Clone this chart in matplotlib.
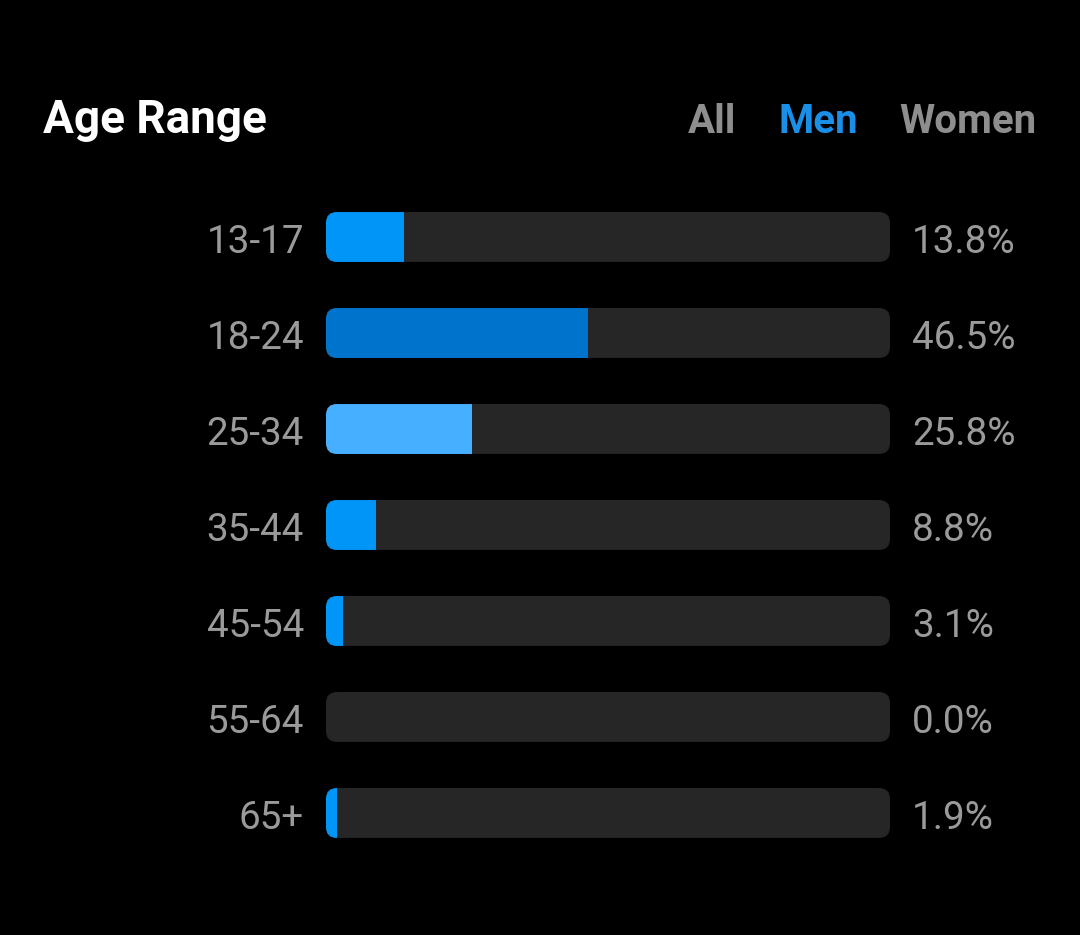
import matplotlib
matplotlib.use("Agg")
import matplotlib.pyplot as plt
from matplotlib.patches import FancyBboxPatch

# data
age_groups = ["13-17", "18-24", "25-34", "35-44", "45-54", "55-64", "65+"]
men_share = [13.8, 46.5, 25.8, 8.8, 3.1, 0.0, 1.9]
tabs = ["All", "Men", "Women"]
active_tab = "Men"

# styling
bar_colors = ["#0095f6", "#0074cc", "#47afff", "#0095f6", "#0095f6", "#0095f6", "#0095f6"]
track_color = "#262626"
label_color = "#9a9a9a"
tab_grey = "#8e8e8e"
tab_blue = "#1a8fe8"

plt.rcParams["font.family"] = ["Roboto", "DejaVu Sans"]

W, H = 1080, 935
fig = plt.figure(figsize=(W / 100, H / 100), dpi=100, facecolor="black")

# bar area: track spans x 326..890 px, rows 96 px apart starting at y=237
left_px, right_px = 326, 890
top_px, bottom_px = 189, 861
ax = fig.add_axes([left_px / W, 1 - bottom_px / H,
                   (right_px - left_px) / W, (bottom_px - top_px) / H])
ax.set_facecolor("black")
ax.set_xlim(0, 100)
ax.set_ylim(len(age_groups) - 0.5, -0.5)
ax.axis("off")

bar_h = 0.52
px_per_x = (right_px - left_px) / 100
px_per_y = (bottom_px - top_px) / len(age_groups)
radius = 11 / px_per_x
aspect = px_per_x / px_per_y
baseline_off = 16 / px_per_y

for i, (grp, val) in enumerate(zip(age_groups, men_share)):
    track = FancyBboxPatch((0, i - bar_h / 2), 100, bar_h,
                           boxstyle=f"round,pad=0,rounding_size={radius}",
                           mutation_aspect=aspect,
                           facecolor=track_color, edgecolor="none")
    ax.add_patch(track)
    bars = ax.barh(i, val, height=bar_h, left=0, color=bar_colors[i])
    for b in bars:
        b.set_clip_path(track)

    ax.text(-22 / px_per_x, i + baseline_off, grp, ha="right", va="baseline",
            fontsize=27.8, color=label_color)
    ax.text(100 + 22 / px_per_x, i + baseline_off, f"{val:.1f}%", ha="left",
            va="baseline", fontsize=27.8, color=label_color)

# header
fig.text(43 / W, 1 - 133 / H, "Age Range", ha="left", va="baseline",
         fontsize=33, fontweight="bold", color="white")

tab_right = {"All": 736, "Men": 858, "Women": 1036}
for t in tabs:
    fig.text(tab_right[t] / W, 1 - 133 / H, t, ha="right", va="baseline",
             fontsize=29, fontweight="bold",
             color=tab_blue if t == active_tab else tab_grey)

fig.savefig("out.png", dpi=100, facecolor="black")
